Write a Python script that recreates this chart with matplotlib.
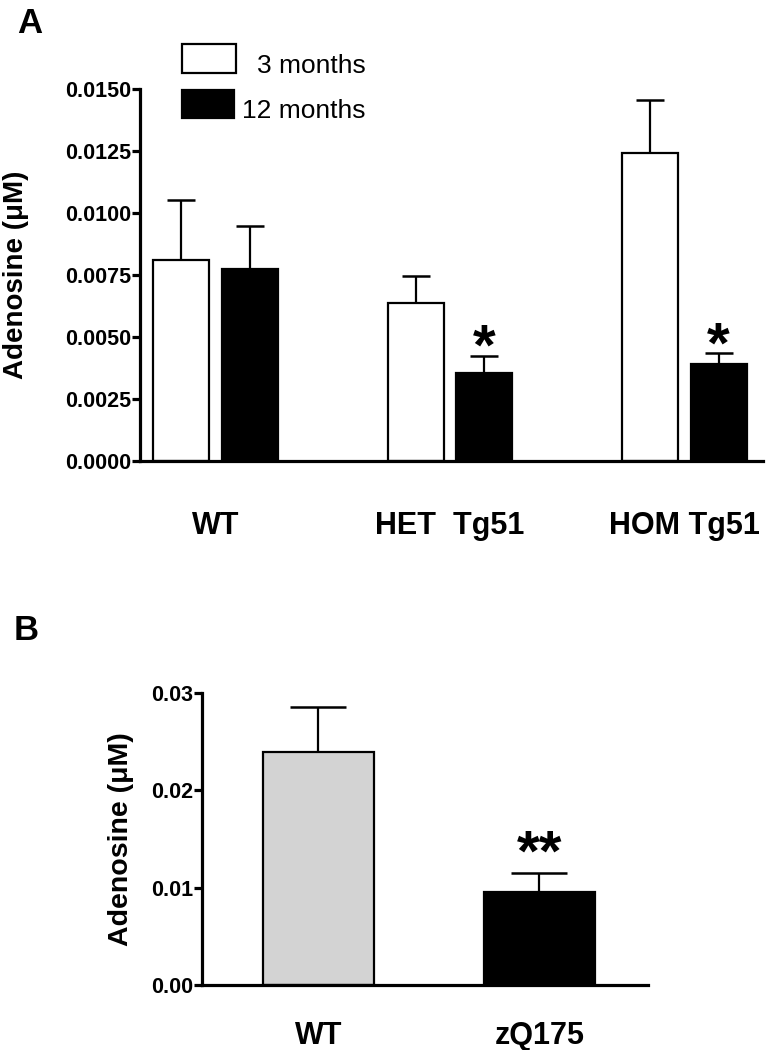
import matplotlib
matplotlib.use("Agg")
import matplotlib.pyplot as plt
import numpy as np
from matplotlib.patches import Rectangle

plt.rcParams['font.family'] = ['Liberation Sans', 'DejaVu Sans']

# ---- Panel A data ----
groups_a = ["WT", "HET  Tg51", "HOM Tg51"]
series_a = ["3 months", "12 months"]
mean_3m = [0.0081, 0.00637, 0.01242]
err_3m = [0.00242, 0.00109, 0.00214]
mean_12m = [0.00774, 0.00355, 0.00391]
err_12m = [0.00174, 0.00068, 0.00044]
yticks_a = [0.0, 0.0025, 0.0050, 0.0075, 0.0100, 0.0125, 0.0150]
stars_a = ["", "*", "*"]

# ---- Panel B data ----
groups_b = ["WT", "zQ175"]
mean_b = [0.02395, 0.00956]
err_b = [0.0046, 0.00195]
yticks_b = [0.00, 0.01, 0.02, 0.03]
stars_b = ["", "**"]

W, H = 767, 1050
fig = plt.figure(figsize=(W / 100, H / 100), dpi=100)

def ax_rect(x0, y0, x1, y1):
    return [x0 / W, 1 - y1 / H, (x1 - x0) / W, (y1 - y0) / H]

lw_axis = 2.3

def style_axis(ax):
    for s in ['top', 'right']:
        ax.spines[s].set_visible(False)
    for s in ['left', 'bottom']:
        ax.spines[s].set_linewidth(lw_axis)
    ax.tick_params(axis='y', length=5.5, width=lw_axis, pad=1,
                   labelsize=15.5)
    for lab in ax.get_yticklabels():
        lab.set_fontweight('bold')

# ---------------- Panel A ----------------
axA = fig.add_axes(ax_rect(140, 89, 763, 461))
x = np.arange(len(groups_a))
bw = 0.239
off = 0.146
axA.bar(x - off, mean_3m, bw, color='white', edgecolor='black', linewidth=1.6,
        label=series_a[0], zorder=2)
axA.bar(x + off, mean_12m, bw, color='black', edgecolor='black', linewidth=1.6,
        label=series_a[1], zorder=2)
axA.errorbar(x - off, mean_3m, yerr=[np.zeros(3), err_3m], fmt='none',
             ecolor='black', elinewidth=1.6, capsize=10, capthick=1.8, zorder=1)
axA.errorbar(x + off, mean_12m, yerr=[np.zeros(3), err_12m], fmt='none',
             ecolor='black', elinewidth=1.6, capsize=10, capthick=1.8, zorder=1)
axA.set_xlim(-0.322, 2.335)
axA.set_ylim(0, 0.015)
axA.set_yticks(yticks_a)
axA.set_yticklabels([f"{v:.4f}" for v in yticks_a])
axA.set_xticks(x)
axA.set_xticklabels(groups_a, fontsize=22, fontweight='bold')
axA.tick_params(axis='x', length=0, pad=36)
style_axis(axA)
axA.set_ylabel("Adenosine (\u03bcM)", fontsize=20, fontweight='bold')
axA.yaxis.set_label_coords((29 - 140) / 623, 0.5)
star_offsets_a = [0, -5.8, -6.5]
for i, s in enumerate(stars_a):
    if s:
        axA.annotate(s, xy=(x[i] + off, mean_12m[i] + err_12m[i]),
                     xytext=(0, star_offsets_a[i]), textcoords='offset points',
                     ha='center', va='baseline', fontsize=42, fontweight='bold')

# legend drawn manually in figure pixels
for (x0, y0, x1, y1, fc, txt, tx, base) in [
        (182, 44, 236, 73, 'white', series_a[0], 257, 73),
        (182, 90, 234, 118, 'black', series_a[1], 242, 118)]:
    fig.patches.append(Rectangle((x0 / W, 1 - y1 / H), (x1 - x0) / W, (y1 - y0) / H,
                                 transform=fig.transFigure, facecolor=fc,
                                 edgecolor='black', linewidth=1.6))
    fig.text(tx / W, 1 - base / H, txt, fontsize=19, va='baseline', ha='left')

fig.text(17 / W, 1 - 33 / H, "A", fontsize=25, fontweight='bold', va='baseline')

# ---------------- Panel B ----------------
axB = fig.add_axes(ax_rect(202, 693, 648, 985))
xb = np.arange(len(groups_b))
axB.bar(xb, mean_b, 0.5, color=['#d3d3d3', 'black'], edgecolor='black',
        linewidth=1.6, zorder=2)
axB.errorbar(xb, mean_b, yerr=[np.zeros(2), err_b], fmt='none', ecolor='black',
             elinewidth=1.6, capsize=20, capthick=1.8, zorder=1)
axB.set_xlim(-0.527, 1.491)
axB.set_ylim(0, 0.03)
axB.set_yticks(yticks_b)
axB.set_yticklabels([f"{v:.2f}" for v in yticks_b])
axB.set_xticks(xb)
axB.set_xticklabels(groups_b, fontsize=22, fontweight='bold')
axB.tick_params(axis='x', length=0, pad=26)
style_axis(axB)
axB.set_ylabel("Adenosine (\u03bcM)", fontsize=20.5, fontweight='bold')
axB.yaxis.set_label_coords((134 - 202) / 446, 0.5)
for i, s in enumerate(stars_b):
    if s:
        axB.annotate(s, xy=(xb[i], mean_b[i] + err_b[i]),
                     xytext=(0, 2), textcoords='offset points',
                     ha='center', va='baseline', fontsize=42, fontweight='bold')

fig.text(14 / W, 1 - 640 / H, "B", fontsize=25, fontweight='bold', va='baseline')

fig.savefig("out.png", dpi=100)
